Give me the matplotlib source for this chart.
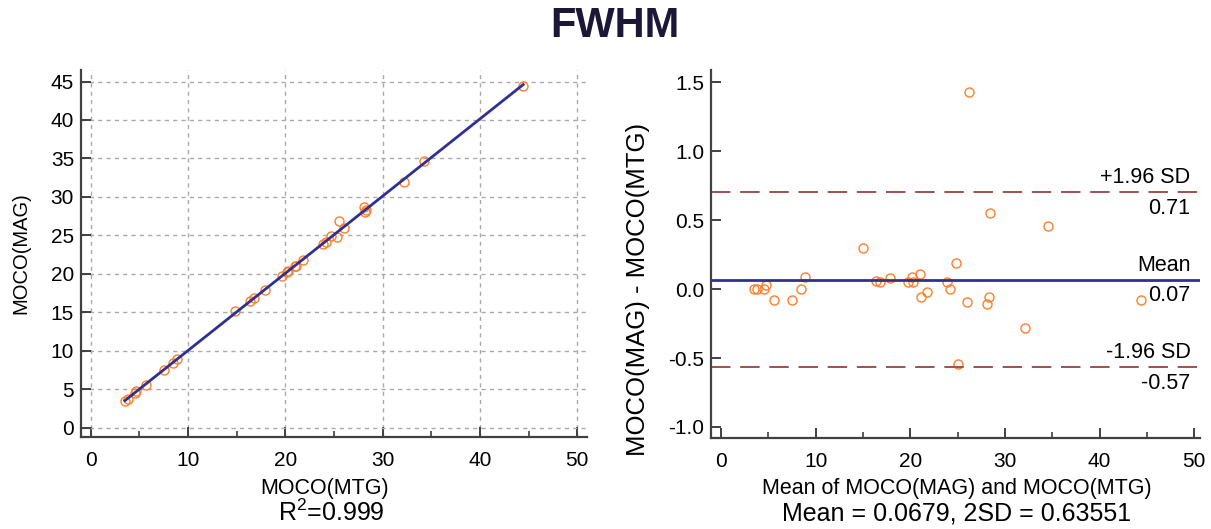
import numpy as np
import matplotlib
matplotlib.use('Agg')
import matplotlib.pyplot as plt
from matplotlib.ticker import MultipleLocator

plt.rcParams['font.family'] = ['Liberation Sans', 'DejaVu Sans']
plt.rcParams['mathtext.fontset'] = 'custom'
plt.rcParams['mathtext.rm'] = 'Liberation Sans'

# values
mtg = [3.50, 3.80, 4.50, 4.69, 5.64, 7.54, 8.45, 8.86, 14.85, 16.37,
       16.78, 17.86, 19.68, 20.16, 20.28, 20.95, 21.13, 21.81, 23.88, 24.20,
       24.71, 25.27, 26.05, 25.49, 28.16, 28.33, 28.13, 32.24, 34.27, 44.44]
mag = [3.50, 3.80, 4.50, 4.72, 5.56, 7.46, 8.45, 8.95, 15.15, 16.43,
       16.83, 17.94, 19.73, 20.25, 20.33, 21.06, 21.07, 21.79, 23.93, 24.20,
       24.90, 24.73, 25.96, 26.92, 28.05, 28.27, 28.68, 31.96, 34.73, 44.36]
r2_text = "R$^2$=0.999"
mean_diff = 0.0679
sd2 = 0.63551
upper_label = "0.71"
lower_label = "-0.57"
mean_label = "0.07"

mtg = np.array(mtg)
mag = np.array(mag)
avg = (mtg + mag) / 2
diff = mag - mtg

spine_col = '#404040'
orange = '#ff7f2a'
navy = '#2e3192'
dash_col = '#a0504f'

fig = plt.figure(figsize=(12.11, 5.29), dpi=100)
ax1 = fig.add_axes([0.0669, 0.1739, 0.4178, 0.6938])
ax2 = fig.add_axes([0.5871, 0.1720, 0.4038, 0.6957])


def style(ax):
    for s in ['top', 'right']:
        ax.spines[s].set_visible(False)
    for s in ['left', 'bottom']:
        ax.spines[s].set_color(spine_col)
        ax.spines[s].set_linewidth(1.6)
    ax.tick_params(which='major', direction='in', length=7, width=1.4,
                   color=spine_col, labelsize=15, pad=5)
    ax.tick_params(which='minor', direction='in', length=4, width=1.2,
                   color=spine_col)
    ax.tick_params(axis='x', which='major', pad=10)
    ax.xaxis.set_major_locator(MultipleLocator(10))
    ax.xaxis.set_minor_locator(MultipleLocator(5))


# scatter with regression line
style(ax1)
ax1.set_xlim(-1, 51)
ax1.set_ylim(-1.2, 46.5)
ax1.yaxis.set_major_locator(MultipleLocator(5))
ax1.grid(True, which='major', linestyle=(0, (3, 3)), color='#aaaaaa', lw=1)
ax1.set_axisbelow(True)
k, b = np.polyfit(mtg, mag, 1)
xs = np.array([mtg.min(), mtg.max()])
ax1.plot(mtg, mag, 'o', mfc='none', mec=orange, ms=6.5, mew=1)
ax1.plot(xs, k * xs + b, color=navy, lw=2)
ax1.set_ylabel('MOCO(MAG)', fontsize=14.5)
ax1.yaxis.set_label_coords(-0.10, 0.5)

# Bland-Altman
style(ax2)
ax2.set_xlim(-1.06, 50.6)
ax2.set_ylim(-1.08, 1.59)
ax2.yaxis.set_major_locator(MultipleLocator(0.5))
ax2.yaxis.set_major_formatter(matplotlib.ticker.FormatStrFormatter('%.1f'))
ax2.plot(avg, diff, 'o', mfc='none', mec=orange, ms=6.5, mew=1)
ax2.axhline(mean_diff, color=navy, lw=2)
ax2.axhline(mean_diff + sd2, color=dash_col, lw=1.4, dashes=(10, 5))
ax2.axhline(mean_diff - sd2, color=dash_col, lw=1.4, dashes=(10, 5))
xt = 49.6
for yv, top, bot in [(mean_diff + sd2, '+1.96 SD', upper_label),
                     (mean_diff, 'Mean', mean_label),
                     (mean_diff - sd2, '-1.96 SD', lower_label)]:
    ax2.text(xt, yv + 0.03, top, ha='right', va='bottom', fontsize=15.5)
    ax2.text(xt, yv - 0.04, bot, ha='right', va='top', fontsize=15.5)
ax2.set_ylabel('MOCO(MAG) - MOCO(MTG)', fontsize=18.5)
ax2.yaxis.set_label_coords(-0.125, 0.405)

fig.text(0.268, 0.077, 'MOCO(MTG)', ha='center', va='center', fontsize=15.5)
fig.text(0.274, 0.030, r2_text, ha='center', va='center', fontsize=18)
fig.text(0.790, 0.077, 'Mean of MOCO(MAG) and MOCO(MTG)', ha='center',
         va='center', fontsize=15.5)
fig.text(0.790, 0.030, 'Mean = %.4f, 2SD = %.5f' % (mean_diff, sd2),
         ha='center', va='center', fontsize=18)
fig.text(0.508, 0.950, 'FWHM', ha='center', va='center', fontsize=30,
         fontweight='bold', color='#1c1736')

fig.savefig('out.png', dpi=100)
